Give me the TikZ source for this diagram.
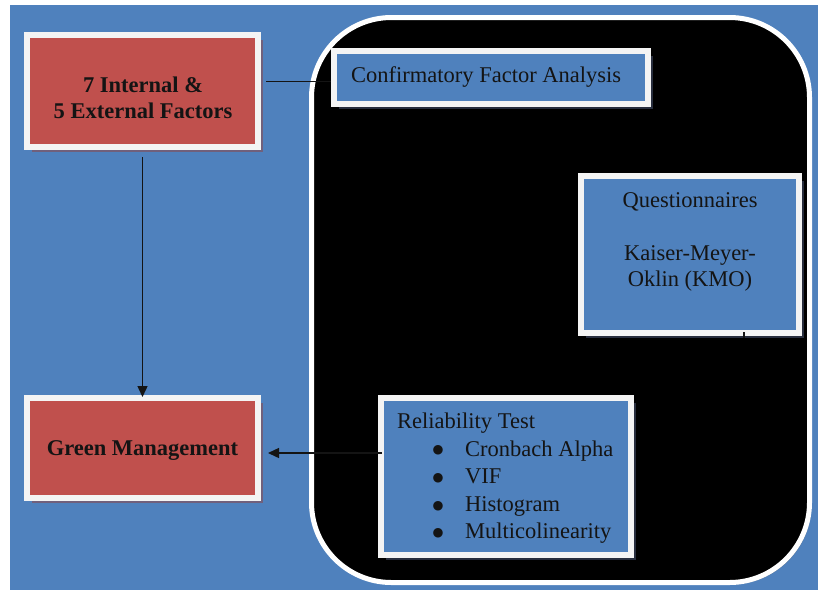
\documentclass[tikz,border=0pt]{standalone}
\usepackage{fontspec}
\setmainfont{Liberation Serif}
\newfontfamily\symfont{DejaVu Sans}
\usetikzlibrary{arrows.meta,shadows}
\definecolor{bgblue}{RGB}{79,129,189}
\definecolor{boxred}{RGB}{192,80,77}
\definecolor{rim}{RGB}{244,244,244}
\definecolor{redshade}{RGB}{112,96,124}
\definecolor{blueshade}{RGB}{40,46,62}
\definecolor{ink}{RGB}{20,20,20}
\begin{document}
\begin{tikzpicture}[x=1pt,y=-1pt,
  txt/.style={font=\fontsize{22.5}{26.5}\selectfont, text=ink},
  boldtxt/.style={font=\fontsize{22.5}{26.5}\selectfont\bfseries, text=ink},
  bul/.style={font=\symfont\fontsize{12.5}{12.5}\selectfont, text=ink, anchor=base, inner sep=0pt},
  redbox/.style={draw=rim, line width=6pt, fill=boxred, inner sep=0pt,
    drop shadow={shadow xshift=5pt, shadow yshift=-5pt, fill=redshade, opacity=1}},
  bluebox/.style={draw=rim, line width=6pt, fill=bgblue, inner sep=0pt,
    drop shadow={shadow xshift=5pt, shadow yshift=-5pt, fill=blueshade, opacity=1}},
  link/.style={draw=ink, line width=1.4pt},
  tip/.style={-{Triangle[length=11pt,width=10pt]}}]
\useasboundingbox (0,0) rectangle (818,590);
\fill[bgblue] (10,5) rectangle (818,590);
% panel
\node[draw=white, line width=5pt, fill=black, rounded corners=80pt, inner sep=0pt,
  minimum width=498pt, minimum height=565pt,
  drop shadow={shadow xshift=2pt, shadow yshift=-2pt, fill=black!60, opacity=0.5}]
  (panel) at (560.5,300) {};
% boxes
\node[redbox, minimum width=231pt, minimum height=112pt] (ext) at (142.5,91) {};
\node[redbox, minimum width=231pt, minimum height=100pt] (green) at (142.5,448) {};
\node[bluebox, minimum width=314pt, minimum height=53pt] (cfa) at (491,77.5) {};
\node[bluebox, minimum width=218pt, minimum height=157pt] (qbox) at (690,254.5) {};
\node[bluebox, minimum width=250pt, minimum height=157pt] (rel) at (506,476.5) {};
% texts
\node[boldtxt, anchor=base] (t1) at (143,92) {7 Internal \&};
\node[boldtxt, anchor=base] (t2) at (143,118) {5 External Factors};
\node[boldtxt, anchor=base] (gt) at (142.5,455) {Green Management};
\node[txt, anchor=base west, inner sep=0pt] (cfat) at (351,82) {Confirmatory Factor Analysis};
\node[txt, anchor=base] (q1) at (690,207) {Questionnaires};
\node[txt, anchor=base] (q2) at (690,260) {Kaiser-Meyer-};
\node[txt, anchor=base] (q3) at (690,286) {Oklin (KMO)};
\node[txt, anchor=base west, inner sep=0pt] (r0) at (397,428) {Reliability Test};
\node[bul] (b1) at (438,453.5) {●};
\node[bul] (b2) at (438,481) {●};
\node[bul] (b3) at (438,509) {●};
\node[bul] (b4) at (438,536.5) {●};
\node[txt, anchor=base west, inner sep=0pt] (r1) at (465,456) {Cronbach Alpha};
\node[txt, anchor=base west, inner sep=0pt] (r2) at (465,483) {VIF};
\node[txt, anchor=base west, inner sep=0pt] (r3) at (465,511) {Histogram};
\node[txt, anchor=base west, inner sep=0pt] (r4) at (465,538) {Multicolinearity};
% connectors
\coordinate (c1) at ([yshift=-4pt]cfa.west);
\draw[link, shorten >=5pt] (c1) -- (c1 -| ext.east);
\draw[link, tip, shorten <=7pt, shorten >=-2pt] (ext.south) -- (green.north);
\coordinate (c2) at ([xshift=4pt, yshift=23.5pt]rel.west);
\draw[link, tip, shorten >=7pt] (c2) -- (c2 -| green.east);
\coordinate (tka) at ([xshift=54pt, yshift=4pt]qbox.south);
\coordinate (tkb) at ([xshift=54pt, yshift=-2pt]qbox.south);
\draw[link] (tka) -- (tkb);
\end{tikzpicture}
\end{document}
